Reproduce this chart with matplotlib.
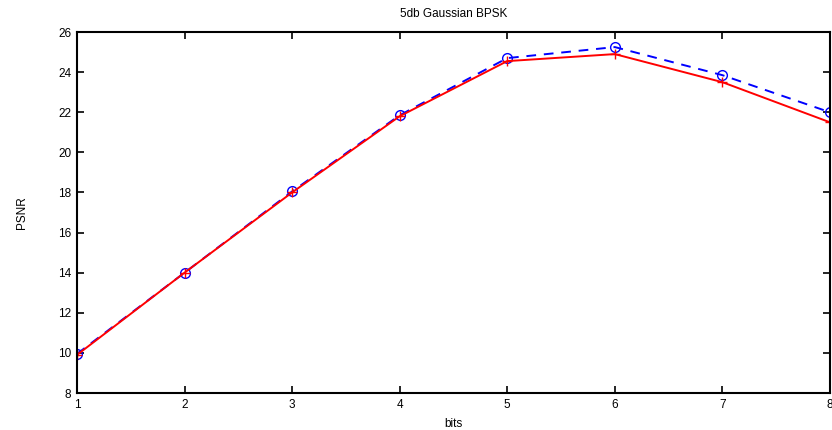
import matplotlib
matplotlib.use('Agg')
import matplotlib.pyplot as plt

bits = [1, 2, 3, 4, 5, 6, 7, 8]
psnr_blue = [9.95, 14.0, 18.05, 21.85, 24.7, 25.25, 23.85, 22.0]
psnr_red = [9.9, 14.0, 18.0, 21.8, 24.55, 24.9, 23.5, 21.5]
yticks = [8, 10, 12, 14, 16, 18, 20, 22, 24, 26]

plt.rcParams['font.family'] = ['Liberation Sans', 'DejaVu Sans']

fig = plt.figure(figsize=(8.32, 4.30), dpi=100)
ax = fig.add_axes([0.0925, 0.086, 0.905, 0.8395])

ax.plot(bits, psnr_blue, color='blue', linestyle='--', marker='o',
        markerfacecolor='none', markersize=7, linewidth=1.4, dashes=(5, 4))
ax.plot(bits, psnr_red, color='red', linestyle='-', marker='+',
        markersize=7, linewidth=1.4)

ax.set_xlim(1, 8)
ax.set_ylim(8, 26)
ax.set_xticks(bits)
ax.set_yticks(yticks)
ax.tick_params(direction='in', top=True, right=True, length=5, width=1.2,
               labelsize=8.5, pad=4)
for s in ax.spines.values():
    s.set_linewidth(1.5)

ax.set_title('5db Gaussian BPSK', fontsize=8.5, pad=11)
ax.set_xlabel('bits', fontsize=8.5, labelpad=5)
ax.set_ylabel('PSNR', fontsize=8.5, labelpad=22)

fig.savefig('out.png', dpi=100)
